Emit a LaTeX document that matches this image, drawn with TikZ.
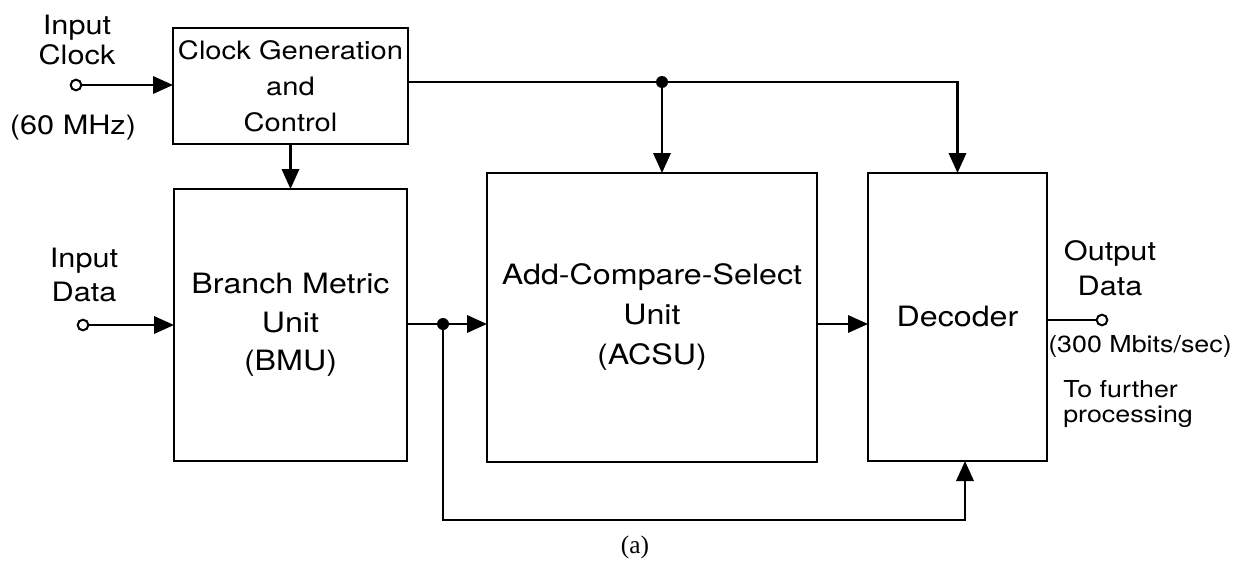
\documentclass[tikz,border=0pt]{standalone}
\usepackage{fontspec}
\setmainfont{TeX Gyre Heros}[FakeStretch=1.15]
\newfontfamily\capfont{Liberation Serif}
\usetikzlibrary{arrows.meta}

\begin{document}
\begin{tikzpicture}[x=0.75pt,y=0.75pt,yscale=-1,xscale=1,
    blk/.style={draw,line width=1.8pt,inner sep=0pt,outer sep=0pt,align=center},
    wire/.style={line width=1.8pt},
    arr/.style={wire,-{Triangle[length=15pt,width=13pt]}},
    port/.style={circle,draw,line width=1.5pt,fill=white,inner sep=0pt,minimum size=8pt},
    dot/.style={circle,fill,inner sep=0pt,minimum size=9pt},
    lbl/.style={align=center,inner sep=0.75pt}]
        \useasboundingbox (0,0) rectangle (1242,567);

        % Blocks
        \node [blk, minimum width=176.25pt, minimum height=87pt, font=\fontsize{19}{27}\selectfont] (clk) at (290.5,86) {Clock Generation\\and\\Control};
        \node [blk, minimum width=174.75pt, minimum height=204pt, font=\fontsize{21}{29}\selectfont] (bmu) at (290.5,325) {Branch Metric\\Unit\\(BMU)};
        \node [blk, minimum width=247.5pt, minimum height=216.75pt, font=\fontsize{21}{30}\selectfont] (acsu) at (652,317.5) {Add-Compare-Select\\Unit\\(ACSU)};
        \node [blk, minimum width=134.25pt, minimum height=216pt, font=\fontsize{21}{29}\selectfont] (dec) at (957.5,317) {Decoder};

        % Ports and junctions
        \node [port] (cin) at (76,85) {};
        \node [port] (din) at (83,325) {};
        \node [port] (dout) at (1102,320) {};
        \node [dot] (jc) at (662,82) {};
        \node [dot] (jb) at (443,324) {};
        \coordinate (fbe) at (965,520);

        % Straight Lines
        \draw [arr] (cin) -- (cin -| clk.west);
        \draw [arr] (clk.south) -- (bmu.north);
        \draw [arr] (din) -- (din -| bmu.west);
        \draw [arr] (jc -| clk.east) -| (dec.north);
        \draw [arr] (jc) -- (jc |- acsu.north);
        \draw [wire] (jb -| bmu.east) -- (jb);
        \draw [arr] (jb) -- (jb -| acsu.west);
        \draw [arr] (acsu.east |- jb) -- (dec.west |- jb);
        \draw [arr] (jb) |- (fbe) -- (fbe |- dec.south);
        \draw [wire] (dec.east |- dout) -- (dout);

        % Text Node
        \node [lbl, font=\fontsize{20}{22}\selectfont] (lclk) at (77,40) {Input\\Clock};
        % Text Node
        \node [lbl, font=\fontsize{20}{22}\selectfont] (lmhz) at (73,128) {(60 MHz)};
        % Text Node
        \node [lbl, font=\fontsize{20}{26}\selectfont] (ldin) at (84,275) {Input\\Data};
        % Text Node
        \node [lbl, font=\fontsize{20}{26}\selectfont] (ldout) at (1110,268) {Output\\Data};
        % Text Node
        \node [lbl, font=\fontsize{17.5}{19}\selectfont] (lrate) at (1140,346) {(300 Mbits/sec)};
        % Text Node
        \node [lbl, align=left, anchor=west, font=\fontsize{17.5}{19}\selectfont] (lproc) at (1062,404) {To further\\processing};
        % Text Node
        \node [lbl, font=\capfont\fontsize{19}{21}\selectfont] (lcap) at (635,547) {(a)};

\end{tikzpicture}
\end{document}
